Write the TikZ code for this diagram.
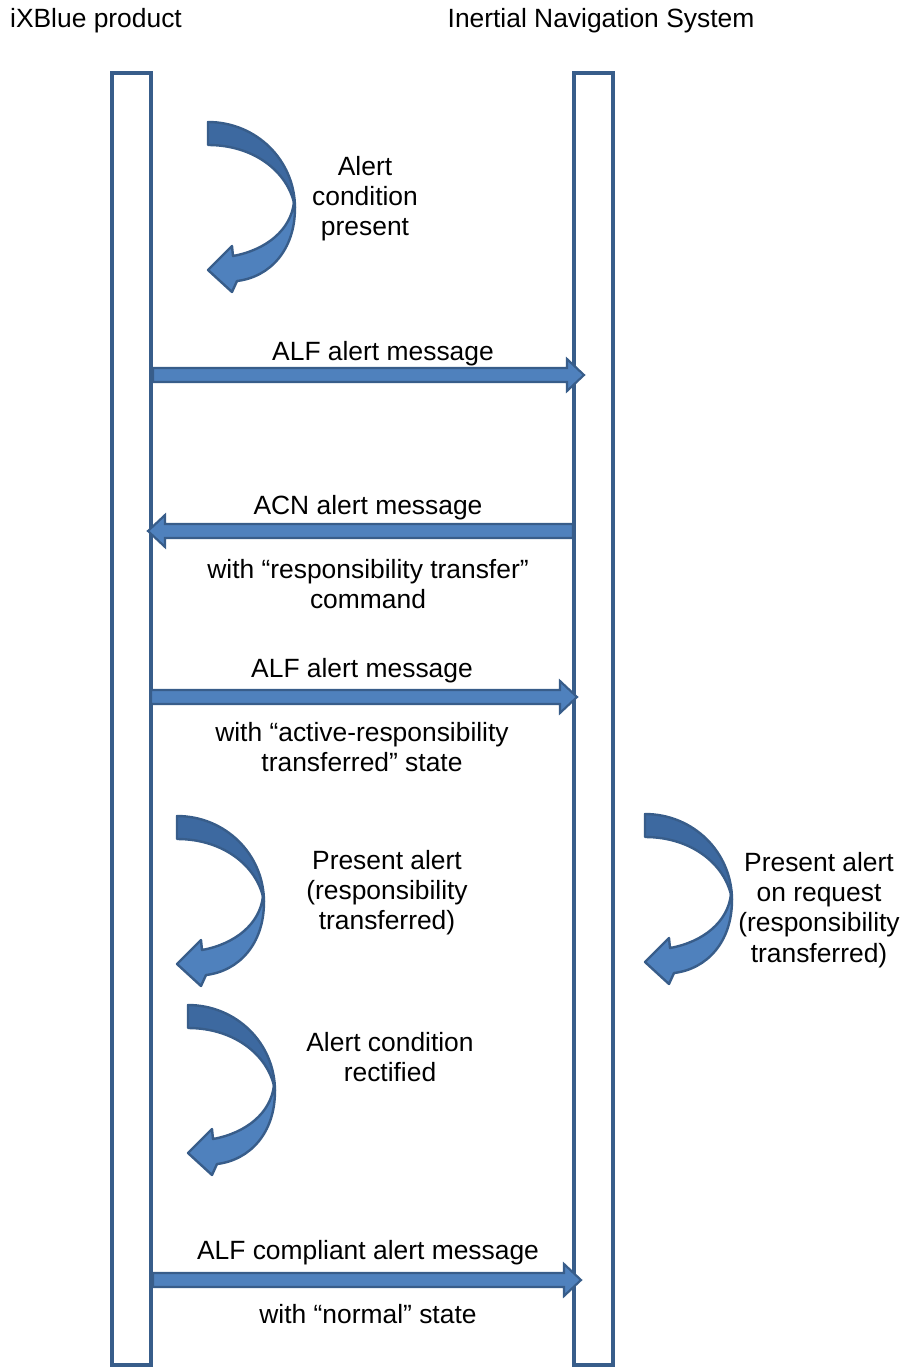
\documentclass[tikz,border=0pt]{standalone}
\usepackage{fontspec}
\setmainfont{Liberation Sans}
\usetikzlibrary{calc}
\definecolor{ablue}{HTML}{4F81BD}
\definecolor{adark}{HTML}{3D69A0}
\definecolor{aline}{HTML}{385D8A}
\newcommand\txtsize{\fontsize{19.8pt}{22.6pt}\selectfont}
\newcommand\msgarrow[3]{%
  \filldraw[msg] ($(#1)+(0,-7)$) -- ($(#2)+(#3*-17,-7)$) -- ($(#2)+(#3*-17,-16)$) -- (#2)
    -- ($(#2)+(#3*-17,16)$) -- ($(#2)+(#3*-17,7)$) -- ($(#1)+(0,7)$) -- cycle;}
\tikzset{
  lifeline/.style={draw=aline, fill=white, line width=3pt, rectangle, inner sep=0pt,
    minimum width=28.9pt, minimum height=969pt},
  msg/.style={fill=ablue, draw=aline, line width=1.6pt, line join=miter},
  lbl/.style={font=\txtsize, inner sep=0pt, align=center},
  curvarr/.pic={
    \filldraw[fill=adark, draw=aline, line width=1.8pt, line join=round]
      (0,0) .. controls (48,0) and (87,38) .. (87,86)
      .. controls (82,52) and (48,23) .. (0,23) -- cycle;
    \filldraw[fill=ablue, draw=aline, line width=1.8pt, line join=round]
      (87,86) .. controls (87,128) and (62,155) .. (29,159) -- (24,170) -- (0,148)
      -- (24,124) -- (25,134) .. controls (58,128) and (83,108) .. (86,80) -- cycle;
  }
}
\begin{document}
\begin{tikzpicture}[x=0.75pt,y=-0.75pt]
\useasboundingbox (0,0) rectangle (905,1367);
% lifelines
\node[lifeline] (L) at (131.75,719) {};
\node[lifeline] (R) at (593.75,719) {};
% headers
\node[lbl] (hL) at (96,21) {iXBlue product};
\node[lbl] (hR) at (601,21) {Inertial Navigation System};
% self actions
\pic at (208,122) {curvarr};
\node[lbl] (t1) at (365,199) {Alert\\condition\\present};
\pic at (177,816) {curvarr};
\node[lbl] (t5) at (387,893) {Present alert\\(responsibility\\transferred)};
\pic at (645,814) {curvarr};
\node[lbl] (t6) at (819,910) {Present alert\\on request\\(responsibility\\transferred)};
\pic at (188,1005) {curvarr};
\node[lbl] (t7) at (390,1057) {Alert condition\\rectified};
% messages
\coordinate (m1s) at (153,375);
\coordinate (m1e) at (584,375);
\msgarrow{m1s}{m1e}{1}
\node[lbl] (t2) at (383,354) {ALF alert message};
\coordinate (m2s) at (573,531);
\coordinate (m2e) at (148,531);
\msgarrow{m2s}{m2e}{-1}
\node[lbl] (t3) at (368,508) {ACN alert message};
\node[lbl] (t3b) at (368,584) {with “responsibility transfer”\\command};
\coordinate (m3s) at (151,697);
\coordinate (m3e) at (577,697);
\msgarrow{m3s}{m3e}{1}
\node[lbl] (t4) at (362,671) {ALF alert message};
\node[lbl] (t4b) at (362,747) {with “active-responsibility\\transferred” state};
\coordinate (m4s) at (153,1280);
\coordinate (m4e) at (581,1280);
\msgarrow{m4s}{m4e}{1}
\node[lbl] (t8) at (368,1253) {ALF compliant alert message};
\node[lbl] (t8b) at (368,1314) {with “normal” state};
\end{tikzpicture}
\end{document}
